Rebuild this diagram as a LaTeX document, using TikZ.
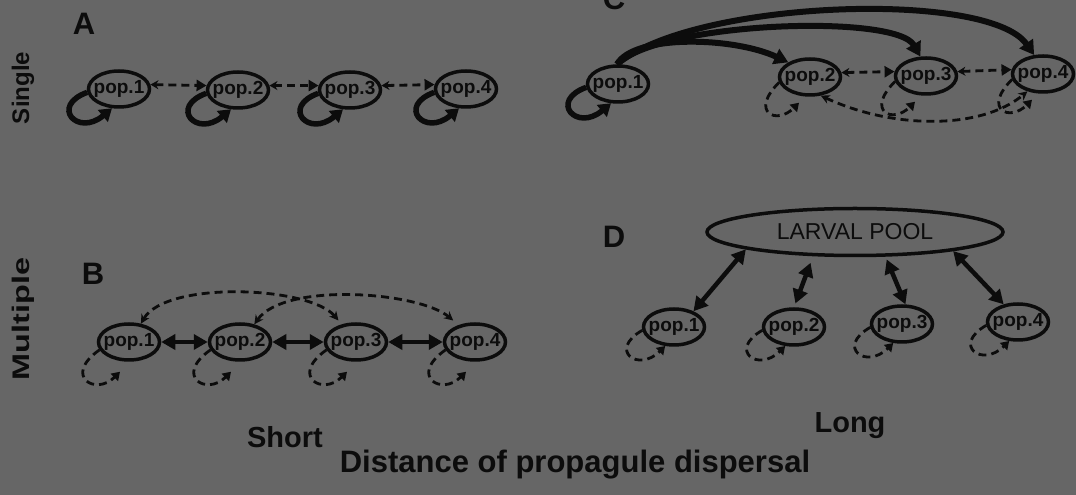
\documentclass[tikz,border=0pt]{standalone}
\usepackage{fontspec}
\setmainfont{Liberation Sans}
\usetikzlibrary{arrows.meta,shapes.geometric}
\definecolor{bg}{RGB}{102,102,102}
\definecolor{ink}{RGB}{12,12,12}

\begin{document}
\begin{tikzpicture}[x=1pt,y=1pt,
  pop/.style={ellipse, draw=ink, line width=3.5pt, minimum width=61pt,
    minimum height=36pt, inner sep=0pt, text=ink,
    font=\fontsize{19}{19}\selectfont\bfseries},
  pool/.style={ellipse, draw=ink, line width=3.5pt, minimum width=296pt,
    minimum height=47pt, inner sep=0pt, text=ink,
    font=\fontsize{23}{23}\selectfont},
  letter/.style={text=ink, inner sep=0pt, font=\fontsize{31}{31}\selectfont\bfseries},
  rowlab/.style={text=ink, inner sep=0pt, rotate=90, anchor=base,
    font=\fontsize{24}{24}\selectfont\bfseries},
  axlab/.style={text=ink, inner sep=0pt, anchor=base,
    font=\fontsize{29}{29}\selectfont\bfseries},
  dashline/.style={draw=ink, line width=2.8pt, dash pattern=on 8pt off 5pt},
  dashdbl/.style={dashline, {Stealth[length=8pt,width=9pt]}-{Triangle[length=10pt,width=11pt]}},
  solidloop/.style={draw=ink, line width=5.5pt, -{Triangle[length=12pt,width=15pt]}},
  dashloop/.style={dashline, -{Triangle[length=8pt,width=10pt]}},
  thickarc/.style={draw=ink, line width=6pt, -{Triangle[length=14pt,width=16pt]}},
  thickdbl/.style={draw=ink, line width=4.5pt, {Triangle[length=14pt,width=15pt]}-{Triangle[length=14pt,width=15pt]}},
]
\fill[bg] (0,0) rectangle (1076,495);
\clip (0,0) rectangle (1076,495);
\useasboundingbox (0,0) rectangle (1076,495);

% row and axis labels
\node[rowlab] (single) at (29,407) {Single};
\node[rowlab] (multiple) at (29,176) {\scalebox{1.35}[1]{Multiple}};
\node[axlab] (short) at (285,47) {Short};
\node[axlab] (long) at (850,62) {Long};
\node[axlab, font=\fontsize{31}{31}\selectfont\bfseries] (distance) at (575,22)
  {Distance of propagule dispersal};

% panel letters
\node[letter] (lA) at (84,471) {A};
\node[letter] (lB) at (93,221) {B};
\node[letter, anchor=base] (lC) at (614,485) {C};
\node[letter] (lD) at (614,258) {D};

% panel A: single population, short dispersal
\node[pop] (a1) at (119,406) {\makebox[30pt]{pop.1}};
\node[pop] (a2) at (238,405) {\makebox[30pt]{pop.2}};
\node[pop] (a3) at (350,405) {\makebox[30pt]{pop.3}};
\node[pop] (a4) at (466,406) {\makebox[30pt]{pop.4}};
\draw[dashdbl] (a1.8) -- (a2.172);
\draw[dashdbl] (a2.8) -- (a3.172);
\draw[dashdbl] (a3.8) -- (a4.172);
\foreach \n in {a1,a2,a3,a4}
  \draw[solidloop] (\n.186) to[out=200,in=220,out distance=40pt,in distance=45pt] (\n.250);

% panel B: multiple populations, short dispersal
\node[pop] (b1) at (129,153) {\makebox[30pt]{pop.1}};
\node[pop] (b2) at (240,153) {\makebox[30pt]{pop.2}};
\node[pop] (b3) at (356,153) {\makebox[30pt]{pop.3}};
\node[pop] (b4) at (475,153) {\makebox[30pt]{pop.4}};
\draw[thickdbl] (b1) -- (b2);
\draw[thickdbl] (b2) -- (b3);
\draw[thickdbl] (b3) -- (b4);
\draw[dashline, {Stealth[length=9pt,width=9pt]}-{Stealth[length=9pt,width=9pt]}, shorten >=5pt]
  (b1.57) to[out=60,in=130,out distance=50pt,in distance=50pt] (b3.129);
\draw[dashline, {Stealth[length=9pt,width=9pt]}-{Stealth[length=9pt,width=9pt]}, shorten >=7pt]
  (b2.51) to[out=55,in=140,out distance=52pt,in distance=52pt] (b4.134);
\foreach \n in {b1,b2,b3,b4}
  \draw[dashloop] (\n.195) to[out=215,in=225,out distance=45pt,in distance=35pt]
    ([shift={(-9pt,-10pt)}]\n.south);

% panel C: single source, long dispersal
\node[pop] (c1) at (618,411) {\makebox[30pt]{pop.1}};
\node[pop] (c2) at (810,418) {\makebox[30pt]{pop.2}};
\node[pop] (c3) at (926,419) {\makebox[30pt]{pop.3}};
\node[pop] (c4) at (1043,421) {\makebox[30pt]{pop.4}};
\draw[thickarc] (c1.93) to[out=60,in=155,out distance=35pt,in distance=60pt] (c2.146);
\draw[thickarc] (c1.93) to[out=45,in=120,out distance=60pt,in distance=50pt] (c3.106);
\draw[thickarc] (c1.93) to[out=40,in=125,out distance=100pt,in distance=80pt] (c4.115);
\draw[solidloop] (c1.186) to[out=200,in=220,out distance=40pt,in distance=45pt] (c1.250);
\draw[dashdbl] (c2.8) -- (c3.172);
\draw[dashdbl] (c3.8) -- (c4.172);
\draw[dashline, {Stealth[length=9pt,width=9pt]}-{Stealth[length=9pt,width=9pt]}]
  (c2.300) to[out=-25,in=220,out distance=80pt,in distance=60pt] (c4.228);
\foreach \n in {c2,c3,c4}
  \draw[dashloop] (\n.190) to[out=225,in=225,out distance=42pt,in distance=32pt]
    ([shift={(-11pt,-6pt)}]\n.south);

% panel D: larval pool, long dispersal
\node[pool] (pool) at (855,263) {LARVAL POOL};
\node[pop] (d1) at (674,168) {\makebox[30pt]{pop.1}};
\node[pop] (d2) at (794,168) {\makebox[30pt]{pop.2}};
\node[pop] (d3) at (902,171) {\makebox[30pt]{pop.3}};
\node[pop] (d4) at (1018,173) {\makebox[30pt]{pop.4}};
\draw[thickdbl] (pool.189) -- (d1.39);
\draw[thickdbl, shorten <=7pt, shorten >=4pt] (pool.210) -- (d2.north);
\draw[thickdbl, shorten <=3pt] (pool.321) -- (d3.80);
\draw[thickdbl] (pool.349) -- (d4.129);
\foreach \n in {d1,d2,d3,d4}
  \draw[dashloop] (\n.186) to[out=210,in=225,out distance=40pt,in distance=38pt] (\n.245);
\end{tikzpicture}
\end{document}
